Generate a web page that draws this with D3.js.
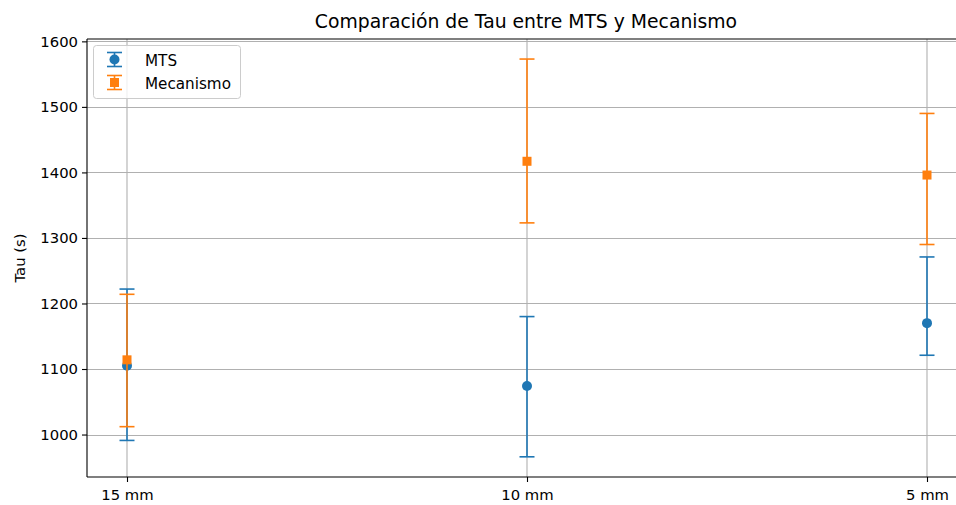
<!DOCTYPE html>
<html>
<head>
<meta charset="utf-8">
<script src="https://cdn.jsdelivr.net/npm/d3@7"></script>
<style>
  html, body { margin: 0; padding: 0; background: #fff; }
  svg { display: block; font-family: "DejaVu Sans", sans-serif; }
</style>
</head>
<body>
<svg id="chart" width="956" height="505"></svg>
<script>
// ---- data ----
const categories = ["15 mm", "10 mm", "5 mm"];
const mtsValues = [1105, 1074, 1170];
const mtsLower  = [991, 966, 1121];
const mtsUpper  = [1222, 1180, 1271];
const mecValues = [1114, 1417, 1396];
const mecLower  = [1012, 1323, 1290];
const mecUpper  = [1214, 1573, 1490];
const yTicks = [1000, 1100, 1200, 1300, 1400, 1500, 1600];
const seriesNames = ["MTS", "Mecanismo"];
const titleText = "Comparación de Tau entre MTS y Mecanismo";
const yLabelText = "Tau (s)";

// ---- layout ----
const W = 956, H = 505;
const L = 87, R = 967, T = 39, B = 477;
const blue = "#1f77b4", orange = "#ff7f0e";
const fs = "14.8px";

const svg = d3.select("#chart");

const x = d3.scalePoint().domain(categories).range([L, R]).padding(0.1);
const y = d3.scaleLinear().domain([935.2, 1603.6]).range([B, T]);

// grid
const grid = svg.append("g");
grid.selectAll("line.gy").data(yTicks).enter().append("line")
  .attr("x1", L).attr("x2", R)
  .attr("y1", d => Math.round(y(d)) + 0.5).attr("y2", d => Math.round(y(d)) + 0.5)
  .attr("stroke", "#b0b0b0").attr("stroke-width", 1.1);
grid.selectAll("line.gx").data(categories).enter().append("line")
  .attr("y1", T).attr("y2", B)
  .attr("x1", d => x(d)).attr("x2", d => x(d))
  .attr("stroke", "#b0b0b0").attr("stroke-width", 1.1);

// axes
const yAxis = d3.axisLeft(y).tickValues(yTicks).tickSize(5).tickPadding(5).tickFormat(d3.format("d"));
const gy = svg.append("g").attr("transform", `translate(${L},0)`).call(yAxis);
const xAxis = d3.axisBottom(x).tickSize(5).tickPadding(5);
const gx = svg.append("g").attr("transform", `translate(0,${B})`).call(xAxis);
[gy, gx].forEach(g => {
  g.select(".domain").remove();
  g.selectAll(".tick line").attr("stroke", "#000").attr("stroke-width", 1.1);
  g.selectAll(".tick text").attr("fill", "#000").style("font-size", fs).style("font-family", "DejaVu Sans");
});
gy.selectAll(".tick text").attr("x", -9);
gx.selectAll(".tick text").attr("dy", "0.88em");

// spines
svg.append("line").attr("x1", L).attr("x2", L).attr("y1", T).attr("y2", B).attr("stroke", "#000").attr("stroke-width", 1.1);
svg.append("line").attr("x1", L).attr("x2", R).attr("y1", B).attr("y2", B).attr("stroke", "#000").attr("stroke-width", 1.1);
svg.append("line").attr("x1", L).attr("x2", R).attr("y1", T).attr("y2", T).attr("stroke", "#000").attr("stroke-width", 1.1);
svg.append("line").attr("x1", R).attr("x2", R).attr("y1", T).attr("y2", B).attr("stroke", "#000").attr("stroke-width", 1.1);

// error bar series
function drawSeries(values, lower, upper, color, shape) {
  const g = svg.append("g");
  const data = categories.map((c, i) => ({c, v: values[i], lo: lower[i], hi: upper[i]}));
  g.selectAll("line.err").data(data).enter().append("line")
    .attr("x1", d => x(d.c)).attr("x2", d => x(d.c))
    .attr("y1", d => y(d.lo)).attr("y2", d => y(d.hi))
    .attr("stroke", color).attr("stroke-width", 1.6);
  ["lo", "hi"].forEach(k => {
    g.selectAll("line.cap" + k).data(data).enter().append("line")
      .attr("x1", d => x(d.c) - 7.5).attr("x2", d => x(d.c) + 7.5)
      .attr("y1", d => y(d[k])).attr("y2", d => y(d[k]))
      .attr("stroke", color).attr("stroke-width", 1.6);
  });
  if (shape === "circle") {
    g.selectAll("circle").data(data).enter().append("circle")
      .attr("cx", d => x(d.c)).attr("cy", d => y(d.v)).attr("r", 5)
      .attr("fill", color);
  } else {
    g.selectAll("rect").data(data).enter().append("rect")
      .attr("x", d => x(d.c) - 4.5).attr("y", d => y(d.v) - 4.5)
      .attr("width", 9).attr("height", 9).attr("fill", color);
  }
}
drawSeries(mtsValues, mtsLower, mtsUpper, blue, "circle");
drawSeries(mecValues, mecLower, mecUpper, orange, "square");

// title
svg.append("text").attr("x", (L + R) / 2 - 1).attr("y", 28)
  .attr("text-anchor", "middle").style("font-size", "18.8px").attr("fill", "#000")
  .text(titleText);

// y label
svg.append("text").attr("transform", `translate(25,${(T + B) / 2}) rotate(-90)`)
  .attr("text-anchor", "middle").style("font-size", fs).attr("fill", "#000")
  .text(yLabelText);

// legend
const lg = svg.append("g");
lg.append("rect").attr("x", 93.5).attr("y", 45.5).attr("width", 147).attr("height", 53)
  .attr("rx", 3).attr("fill", "rgba(255,255,255,0.8)").attr("stroke", "#cccccc").attr("stroke-width", 1);
const legendItems = [
  {name: seriesNames[0], color: blue, shape: "circle", cy: 59.5},
  {name: seriesNames[1], color: orange, shape: "square", cy: 82.5}
];
legendItems.forEach(it => {
  const mx = 114.5;
  lg.append("line").attr("x1", mx).attr("x2", mx).attr("y1", it.cy - 7).attr("y2", it.cy + 7)
    .attr("stroke", it.color).attr("stroke-width", 1.6);
  lg.append("line").attr("x1", mx - 7.5).attr("x2", mx + 7.5).attr("y1", it.cy - 7).attr("y2", it.cy - 7)
    .attr("stroke", it.color).attr("stroke-width", 1.6);
  lg.append("line").attr("x1", mx - 7.5).attr("x2", mx + 7.5).attr("y1", it.cy + 7).attr("y2", it.cy + 7)
    .attr("stroke", it.color).attr("stroke-width", 1.6);
  if (it.shape === "circle") {
    lg.append("circle").attr("cx", mx).attr("cy", it.cy).attr("r", 5).attr("fill", it.color);
  } else {
    lg.append("rect").attr("x", mx - 4.5).attr("y", it.cy - 4.5).attr("width", 9).attr("height", 9).attr("fill", it.color);
  }
  lg.append("text").attr("x", 145).attr("y", it.cy + 6).style("font-size", "15.2px").attr("fill", "#000").text(it.name);
});
</script>
</body>
</html>
